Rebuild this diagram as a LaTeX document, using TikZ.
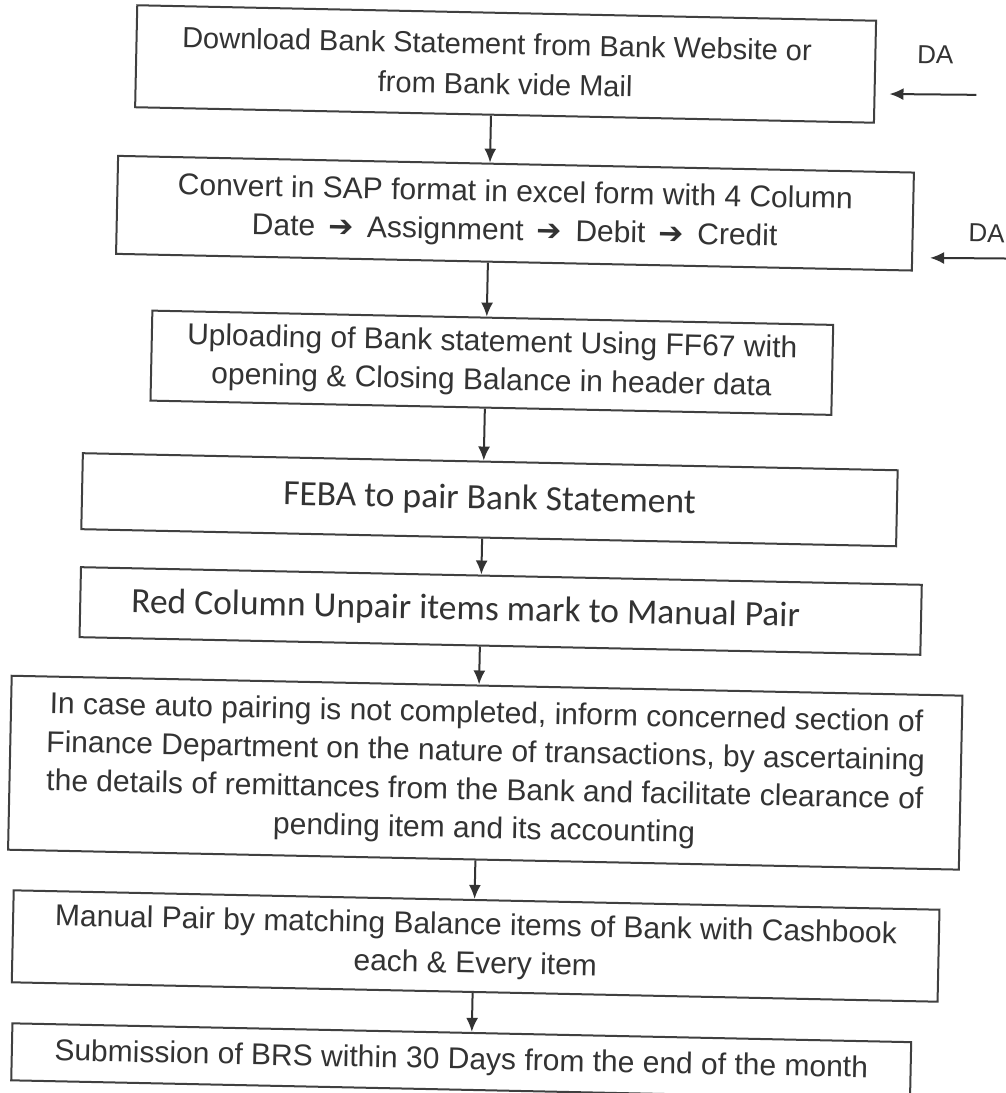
\documentclass[tikz,border=0pt]{standalone}
\usepackage{fontspec}
\setmainfont{Liberation Sans}
\newfontfamily\calibrifont{Carlito}
\newfontfamily\symbolfont{DejaVu Sans}
\usepackage{tikz}
\usetikzlibrary{arrows.meta}
\tikzset{>={Latex[length=14pt,width=12pt]}}
\tikzset{
	stepbox/.style={draw=black!75, line width=2pt, align=center, inner sep=0pt, text=black!80},
	arialtext/.style={font=\fontsize{30}{38.5}\selectfont},
	calibritext/.style={font=\calibrifont\fontsize{35.5}{40}\selectfont},
	flow/.style={->, draw=black!80, line width=2pt}
}
\newcommand{\nextstep}{\hspace{5pt}{\symbolfont\fontsize{30}{30}\selectfont ➔}\hspace{5pt}}

\begin{document}
\begin{tikzpicture}[x=1pt,y=-1pt]
	\useasboundingbox[fill=white] (0,0) rectangle (1005,1093);
	\begin{scope}[rotate around={-1.2:(502.5,546.5)}, transform shape]
		\coordinate (spine) at (482,0);

		\node[stepbox, arialtext, font=\fontsize{29}{40}\selectfont, minimum width=739pt, minimum height=102pt] (download) at (495.5,64)
			{Download Bank Statement from Bank Website or\hspace*{18pt}\\ from Bank vide Mail};
		\node[stepbox, arialtext, minimum width=796pt, minimum height=98pt] (convert) at (508,213)
			{Convert in SAP format in excel form with 4 Column\\ Date \nextstep{} Assignment \nextstep{} Debit \nextstep{} Credit};
		\node[stepbox, arialtext, minimum width=681pt, minimum height=90pt] (upload) at (488,363)
			{Uploading of Bank statement Using FF67 with\\ opening \& Closing Balance in header data};
		\node[stepbox, calibritext, minimum width=815pt, minimum height=76pt] (feba) at (488.5,500)
			{FEBA to pair Bank Statement};
		\node[stepbox, calibritext, minimum width=841pt, minimum height=70pt] (unpair) at (502,611)
			{Red Column Unpair items mark to Manual Pair\hspace*{70pt}};
		\node[stepbox, arialtext, minimum width=951pt, minimum height=174pt] (inform) at (490,773)
			{In case auto pairing is not completed, inform concerned section of\\
			 Finance Department on the nature of transactions, by ascertaining\\
			 the details of remittances from the Bank and facilitate clearance of\\
			 pending item and its accounting};
		\node[stepbox, arialtext, minimum width=926pt, minimum height=92pt] (manual) at (484,946.5)
			{Manual Pair by matching Balance items of Bank with Cashbook\\ each \& Every item};
		\node[stepbox, arialtext, minimum width=899pt, minimum height=57pt] (submit) at (472,1062)
			{Submission of BRS within 30 Days from the end of the month};

		\draw[flow] (download.south -| spine) -- (convert.north -| spine);
		\draw[flow] (convert.south -| spine) -- (upload.north -| spine);
		\draw[flow] (upload.south -| spine) -- (feba.north -| spine);
		\draw[flow] (feba.south -| spine) -- (unpair.north -| spine);
		\draw[flow] (unpair.south -| spine) -- (inform.north -| spine);
		\draw[flow] (inform.south -| spine) -- (manual.north -| spine);
		\draw[flow] (manual.south -| spine) -- (submit.north -| spine);

		\node[arialtext, font=\fontsize{26}{26}\selectfont, text=black!80] (da1) at (925,46) {DA};
		\coordinate (da1tail) at (967,85);
		\coordinate (da1head) at (880,86);
		\draw[flow] (da1tail) -- (da1head);
		\node[arialtext, font=\fontsize{26}{26}\selectfont, text=black!80] (da2) at (980,223) {DA};
		\coordinate (da2tail) at (1003,248);
		\coordinate (da2head) at (924,249);
		\draw[flow] (da2tail) -- (da2head);
	\end{scope}
\end{tikzpicture}
\end{document}
